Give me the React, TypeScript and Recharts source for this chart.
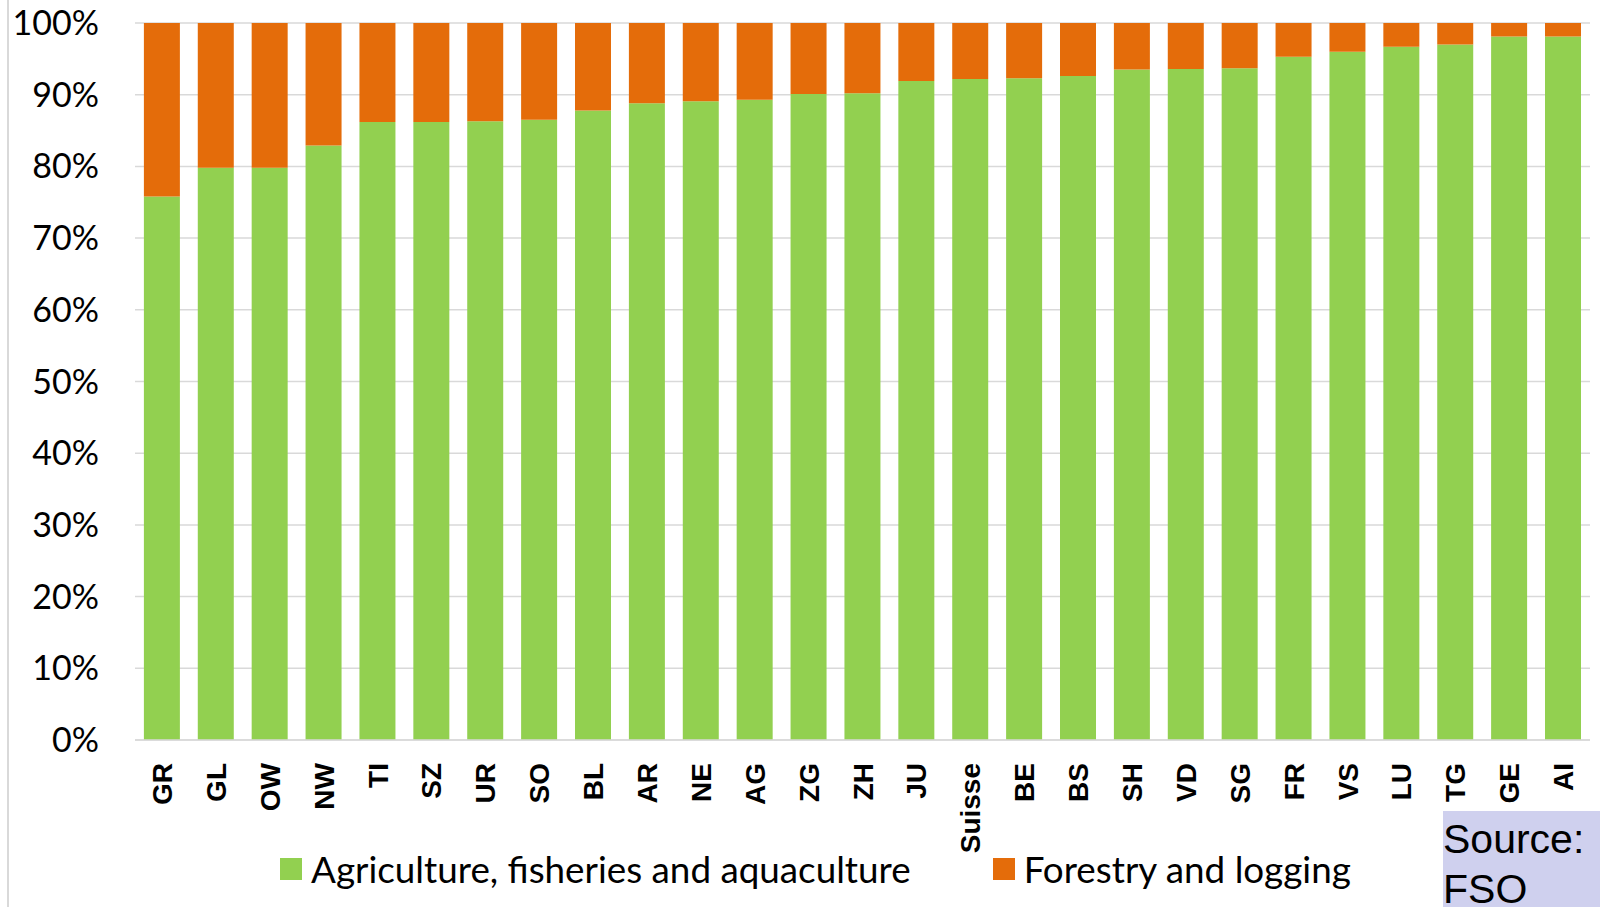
import { BarChart, Bar, XAxis, YAxis, CartesianGrid, Legend } from 'recharts';

const cantons = [
    'GR', 'GL', 'OW', 'NW', 'TI', 'SZ', 'UR', 'SO', 'BL', 'AR', 'NE', 'AG', 'ZG', 'ZH',
    'JU', 'Suisse', 'BE', 'BS', 'SH', 'VD', 'SG', 'FR', 'VS', 'LU', 'TG', 'GE', 'AI',
];
// share of agriculture, fisheries and aquaculture (%)
const agriculture = [
    75.8, 79.8, 79.8, 82.9, 86.2, 86.2, 86.3, 86.5, 87.8, 88.8, 89.1, 89.3, 90.1, 90.2,
    91.9, 92.2, 92.3, 92.6, 93.5, 93.6, 93.7, 95.3, 96.0, 96.7, 97.0, 98.1, 98.1,
];
// share of forestry and logging (%)
const forestry = [
    24.2, 20.2, 20.2, 17.1, 13.8, 13.8, 13.7, 13.5, 12.2, 11.2, 10.9, 10.7, 9.9, 9.8,
    8.1, 7.8, 7.7, 7.4, 6.5, 6.4, 6.3, 4.7, 4.0, 3.3, 3.0, 1.9, 1.9,
];
const yTicks = [0, 10, 20, 30, 40, 50, 60, 70, 80, 90, 100];
const seriesNames = ['Agriculture, fisheries and aquaculture', 'Forestry and logging'];
const COLORS = ['#92d050', '#e46c0a'];

const data = cantons.map((c, i) => ({
    canton: c,
    agriculture: agriculture[i],
    forestry: forestry[i],
}));

const CantonTick = ({ x, y, payload }: any) => (
    <g transform={`translate(${x},${y})`}>
        <text
            transform='rotate(-90)'
            x={-15}
            y={0}
            dy='0.36em'
            textAnchor='end'
            fontFamily='"Liberation Sans", Arial, sans-serif'
            fontWeight='bold'
            fontSize={28}
            fill='#000'
        >
            {payload.value}
        </text>
    </g>
);

const LegendContent = ({ payload }: any) => (
    <div
        style={{
            display: 'flex',
            alignItems: 'center',
            paddingLeft: 280,
            fontFamily: 'Lato, sans-serif',
            fontSize: 36.8,
            color: '#000',
        }}
    >
        {(payload || []).map((entry: any, i: number) => (
            <div
                key={`leg-${i}`}
                style={{ display: 'flex', alignItems: 'center', marginRight: 82 }}
            >
                <span
                    style={{
                        display: 'inline-block',
                        width: 22,
                        height: 22,
                        background: entry.color,
                        marginRight: 9,
                    }}
                />
                <span>{entry.value}</span>
            </div>
        ))}
    </div>
);

export default function App() {
    return (
        <div
            style={{
                position: 'absolute',
                left: 0,
                top: 0,
                width: 1600,
                height: 907,
                background: '#fff',
                overflow: 'hidden',
            }}
        >
            <div
                style={{
                    position: 'absolute',
                    left: 7,
                    top: 0,
                    width: 2,
                    height: 907,
                    background: '#d9d9d9',
                }}
            />
            <BarChart
                width={1600}
                height={907}
                data={data}
                margin={{ top: 23, right: 10, left: 0, bottom: 27 }}
                barCategoryGap='16.5%'
            >
                <CartesianGrid vertical={false} stroke='#d9d9d9' strokeWidth={1.5} />
                <XAxis
                    dataKey='canton'
                    interval={0}
                    height={140}
                    tickLine={false}
                    axisLine={{ stroke: '#d9d9d9', strokeWidth: 1.5 }}
                    tick={<CantonTick />}
                />
                <YAxis
                    width={135}
                    domain={[0, 100]}
                    ticks={yTicks}
                    tickFormatter={(v) => `${v}%`}
                    axisLine={false}
                    tickLine={false}
                    tickMargin={30}
                    tick={{ fontFamily: 'Lato, sans-serif', fontSize: 34, fill: '#000' }}
                />
                <Bar
                    dataKey='agriculture'
                    name={seriesNames[0]}
                    stackId='a'
                    fill={COLORS[0]}
                    isAnimationActive={false}
                />
                <Bar
                    dataKey='forestry'
                    name={seriesNames[1]}
                    stackId='a'
                    fill={COLORS[1]}
                    isAnimationActive={false}
                />
                <Legend
                    layout='horizontal'
                    verticalAlign='middle'
                    align='center'
                    content={<LegendContent />}
                    wrapperStyle={{ top: 847, left: 0, width: 1600 }}
                />
            </BarChart>
            <div
                style={{
                    position: 'absolute',
                    left: 1443,
                    top: 811,
                    width: 157,
                    height: 96,
                    background: '#cfd0ee',
                    fontFamily: '"Liberation Sans", Arial, sans-serif',
                    fontSize: 41,
                    lineHeight: '50px',
                    color: '#000',
                    paddingLeft: 0,
                    paddingTop: 3,
                    boxSizing: 'border-box',
                }}
            >
                Source:
                <br />
                FSO
            </div>
        </div>
    );
}
